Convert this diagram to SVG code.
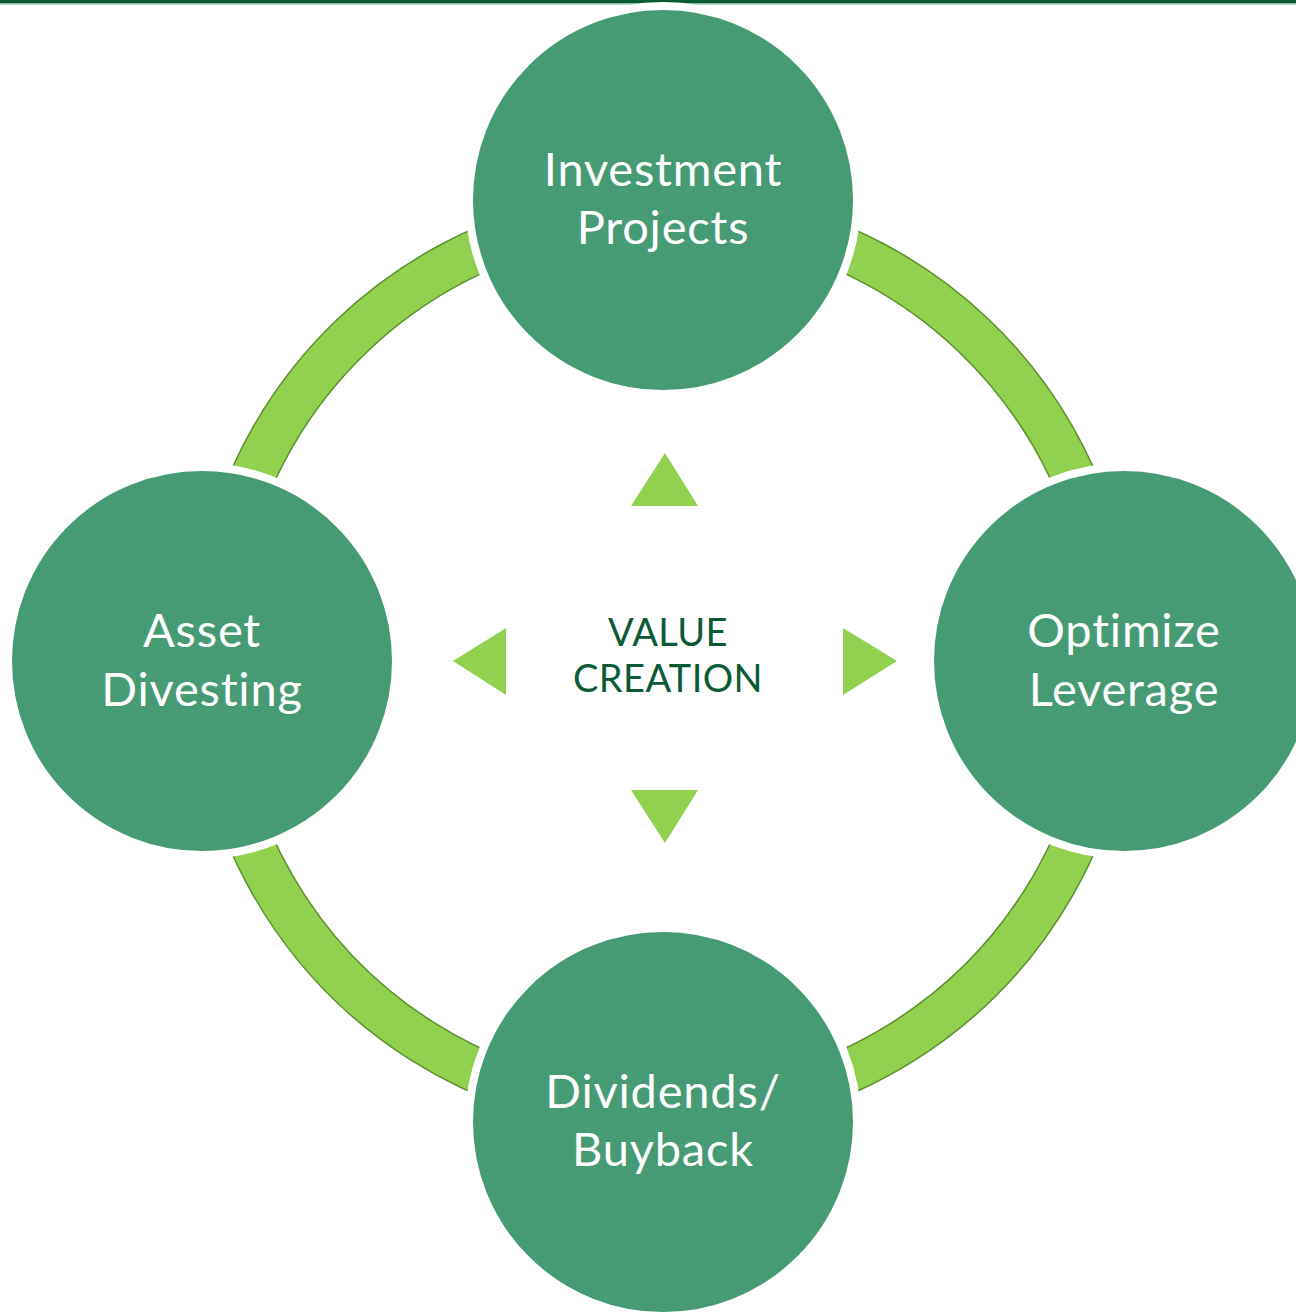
<svg xmlns="http://www.w3.org/2000/svg" width="1296" height="1314" viewBox="0 0 1296 1314">
<style>
.node{fill:#469B75;stroke:#ffffff;stroke-width:8}
.lbl{font-family:Lato,"Open Sans","Liberation Sans",sans-serif;font-size:47px;letter-spacing:0.8px;font-variant-ligatures:none;fill:#ffffff;text-anchor:middle}
.ctr{font-family:Lato,"Open Sans","Liberation Sans",sans-serif;font-size:38px;letter-spacing:0.4px;fill:#0B5A36;text-anchor:middle}
.tri{fill:#92D050}
</style>
<rect x="0" y="0" width="1296" height="1314" fill="#ffffff"/>
<rect x="0" y="0" width="1296" height="3.5" fill="#0B5A36"/>
<rect x="0" y="3.5" width="1296" height="1.2" fill="#9CC9B0"/>
<g id="connectors">
<path d="M663,189 A472,472 0 1,1 662.99,189 Z M663,233 A428,428 0 1,0 663.01,233 Z" fill="#92D050" fill-rule="evenodd" stroke="#5E8F2E" stroke-width="1.5"/>
<polygon class="tri" points="665,453 698,506 631,506"/>
<polygon class="tri" points="453,661 506,628 506,695"/>
<polygon class="tri" points="897,661 843,628 843,695"/>
<polygon class="tri" points="665,843 698,790 631,790"/>
</g>
<g id="center">
<text class="ctr" x="668" y="646">VALUE</text>
<text class="ctr" x="668" y="692">CREATION</text>
</g>
<g id="node-top">
<circle class="node" cx="663" cy="200" r="194"/>
<text class="lbl" x="663" y="186">Investment</text>
<text class="lbl" x="663" y="244">Projects</text>
</g>
<g id="node-left">
<circle class="node" cx="202" cy="661" r="194"/>
<text class="lbl" x="202" y="647">Asset</text>
<text class="lbl" x="202" y="706">Divesting</text>
</g>
<g id="node-right">
<circle class="node" cx="1124" cy="661" r="194"/>
<text class="lbl" x="1124" y="647">Optimize</text>
<text class="lbl" x="1124" y="706">Leverage</text>
</g>
<g id="node-bottom">
<circle class="node" cx="663" cy="1122" r="194"/>
<text class="lbl" x="663" y="1108">Dividends/</text>
<text class="lbl" x="663" y="1166">Buyback</text>
</g>
</svg>
